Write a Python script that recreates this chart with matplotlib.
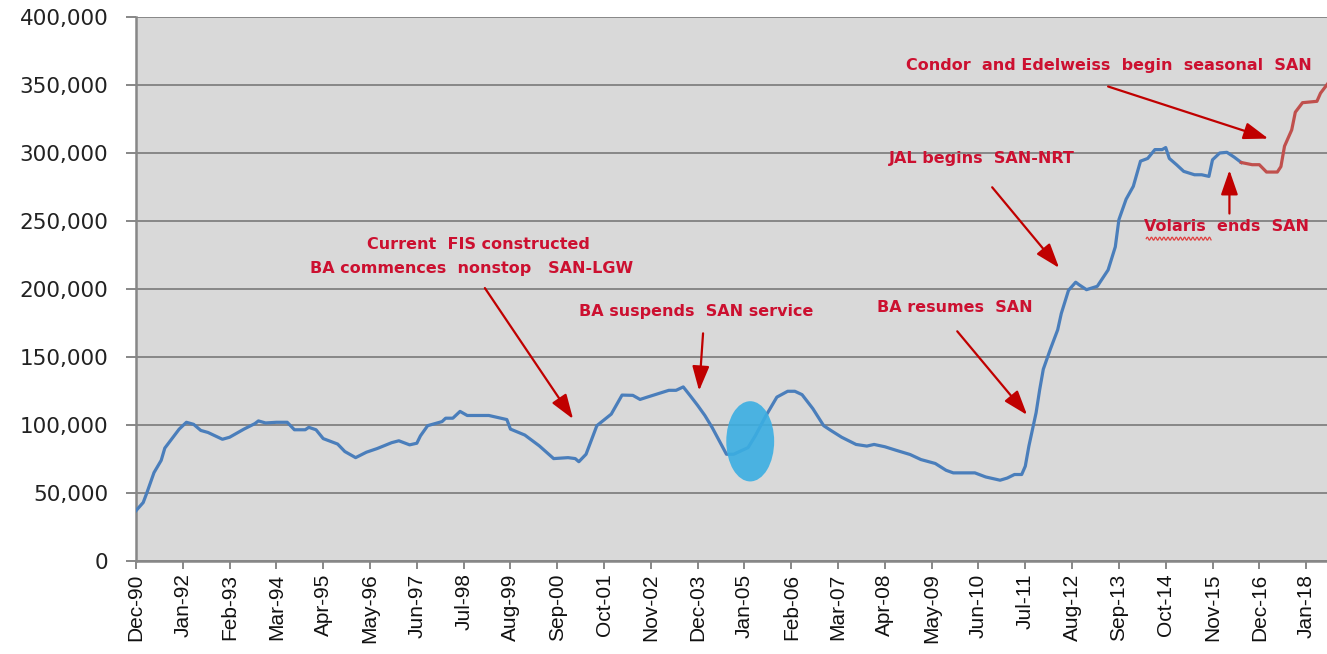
"""
SAN international passengers (rolling 12 months), Dec-90 to mid-2018
"""

import datetime as dt

import matplotlib
matplotlib.use("Agg")
import matplotlib.pyplot as plt
import numpy as np
import pandas as pd
from matplotlib.patches import Ellipse
from matplotlib.ticker import FuncFormatter

# values
blue_months = [
    "1990-12", "1991-02", "1991-03", "1991-05", "1991-07", "1991-08", "1991-10", "1991-12",
    "1992-02", "1992-04", "1992-06", "1992-08", "1992-12", "1993-02", "1993-06", "1993-09",
    "1993-10", "1993-12", "1994-03", "1994-06", "1994-08", "1994-11", "1994-12", "1995-02",
    "1995-04", "1995-08", "1995-10", "1996-01", "1996-04", "1996-07", "1996-11", "1997-01",
    "1997-04", "1997-06", "1997-07", "1997-09", "1998-01", "1998-02", "1998-04", "1998-06",
    "1998-08", "1999-02", "1999-03", "1999-07", "1999-08", "1999-12", "2000-04", "2000-08",
    "2000-12", "2001-02", "2001-03", "2001-05", "2001-08", "2001-12", "2002-03", "2002-06",
    "2002-08", "2002-10", "2003-02", "2003-04", "2003-06", "2003-08", "2003-10", "2003-12",
    "2004-02", "2004-04", "2004-06", "2004-08", "2004-10", "2005-02", "2005-04", "2005-07",
    "2005-10", "2006-01", "2006-03", "2006-05", "2006-08", "2006-11", "2007-01", "2007-04",
    "2007-08", "2007-11", "2008-01", "2008-04", "2008-07", "2008-11", "2009-02", "2009-06",
    "2009-09", "2009-11", "2010-05", "2010-08", "2010-12", "2011-02", "2011-04", "2011-06",
    "2011-07", "2011-08", "2011-10", "2011-11", "2011-12", "2012-02", "2012-04", "2012-05",
    "2012-07", "2012-09", "2012-10", "2012-12", "2013-03", "2013-06", "2013-08", "2013-09",
    "2013-11", "2014-01", "2014-03", "2014-05", "2014-07", "2014-09", "2014-10", "2014-11",
    "2015-01", "2015-03", "2015-06", "2015-08", "2015-10", "2015-11", "2016-01", "2016-03",
    "2016-05", "2016-07",
]
blue_values = [
    37000, 43000, 50000, 65000, 74000, 83000, 90000, 97000,
    102000, 100500, 96000, 94500, 89500, 91000, 97000, 101000,
    103000, 101500, 102000, 102000, 96500, 96500, 98300, 96500,
    90000, 86000, 80500, 76000, 80000, 82700, 87000, 88400,
    85400, 86600, 92000, 99500, 102500, 105000, 105000, 110000,
    107000, 107000, 106400, 104000, 97000, 92600, 84700, 75300,
    76000, 75300, 73000, 78500, 99500, 108000, 122000, 121800,
    118800, 120500, 123800, 125500, 125500, 128000, 121300, 114400,
    107000, 98300, 88400, 78500, 78500, 83400, 92000, 107000,
    120500, 124800, 124800, 122300, 112000, 99500, 96000, 91000,
    85700, 84500, 85700, 84000, 81500, 78300, 74600, 71700,
    66700, 64800, 64800, 61800, 59400, 61000, 63600, 63600,
    69700, 84500, 109000, 126000, 141000, 156000, 170000, 182000,
    199000, 205000, 203000, 199500, 202000, 214000, 231000, 251000,
    266000, 275500, 294000, 296000, 302500, 302500, 304000, 296000,
    291400, 286500, 284000, 284000, 282800, 295000, 300000, 300500,
    297000, 293000,
]

red_months = [
    "2016-07", "2016-10", "2016-12", "2017-02", "2017-05", "2017-06", "2017-07",
    "2017-09", "2017-10", "2017-12", "2018-04", "2018-05", "2018-07",
]
red_values = [
    293000, 291400, 291400, 286000, 286000, 290000, 305000,
    317000, 330000, 337000, 338000, 344000, 351000,
]

tick_labels = [
    "Dec-90", "Jan-92", "Feb-93", "Mar-94", "Apr-95", "May-96", "Jun-97", "Jul-98",
    "Aug-99", "Sep-00", "Oct-01", "Nov-02", "Dec-03", "Jan-05", "Feb-06", "Mar-07",
    "Apr-08", "May-09", "Jun-10", "Jul-11", "Aug-12", "Sep-13", "Oct-14", "Nov-15",
    "Dec-16", "Jan-18",
]

START = pd.Period("1990-12", freq="M")
TEXT_RED = "#CC1030"
ARROW_RED = "#C00000"
GRID_GRAY = "#878787"


def month_index(p):
    """Months since Dec-1990."""
    return (pd.Period(p, freq="M") - START).n


def label_index(lbl):
    d = dt.datetime.strptime(lbl, "%b-%y")
    return month_index(d.strftime("%Y-%m"))


blue_x = [month_index(m) for m in blue_months]
red_x = [month_index(m) for m in red_months]
tick_x = [label_index(t) for t in tick_labels]

fig = plt.figure(figsize=(13.27, 6.54), dpi=100)
ax = fig.add_axes([136 / 1327, 1 - 561 / 654, 1 - 136 / 1327, (561 - 17) / 654])
ax.set_facecolor("#D9D9D9")

ax.plot(blue_x, blue_values, color="#4A7EBB", lw=2.3, solid_joinstyle="round", zorder=3)
ax.plot(red_x, red_values, color="#C0504D", lw=2.3, solid_joinstyle="round", zorder=3)

# highlight around the Jan-05 dip
ax.add_patch(Ellipse((170.6, 88000), 13.3, 59000, facecolor="#3BAEE2", edgecolor="none",
                     alpha=0.9, zorder=4))

ax.set_xlim(0, 330.8)
ax.set_ylim(0, 400000)
ax.set_yticks(range(0, 400001, 50000))
ax.yaxis.set_major_formatter(FuncFormatter(lambda v, _: f"{int(v):,}"))
ax.set_xticks(tick_x)
ax.set_xticklabels(tick_labels, rotation=90, fontsize=15, family="Liberation Sans")

ax.grid(axis="y", color=GRID_GRAY, lw=1.4, zorder=1)
ax.set_axisbelow(True)
for side in ("top", "right"):
    ax.spines[side].set_visible(False)
for side in ("left", "bottom"):
    ax.spines[side].set_color(GRID_GRAY)
    ax.spines[side].set_linewidth(1.8)

ax.tick_params(axis="y", length=7, width=1.4, color=GRID_GRAY, pad=13,
               labelsize=15.5, labelcolor="#222222")
ax.tick_params(axis="x", length=6, width=1.4, color=GRID_GRAY, pad=3, labelcolor="#111111")

# annotations
txt = dict(color=TEXT_RED, fontsize=11.5, fontweight="bold", ha="center", va="center", zorder=6)
arrow = dict(arrowstyle="-|>,head_length=0.75,head_width=0.26", color=ARROW_RED, lw=1.6,
             mutation_scale=20, shrinkA=0, shrinkB=0)

ax.text(95, 232600, "Current  FIS constructed", **txt)
ax.text(93.3, 214800, "BA commences  nonstop   SAN-LGW", **txt)
ax.annotate("", xy=(121.4, 104400), xytext=(96.9, 200700), arrowprops=arrow)

ax.text(155.6, 183700, "BA suspends  SAN service", **txt)
ax.annotate("", xy=(156.4, 125200), xytext=(157.5, 167400), arrowprops=arrow)

ax.text(227.5, 186700, "BA resumes  SAN", **txt)
ax.annotate("", xy=(247.5, 107400), xytext=(228.1, 168900), arrowprops=arrow)

ax.text(235, 296300, "JAL begins  SAN-NRT", **txt)
ax.annotate("", xy=(256.4, 215500), xytext=(237.8, 274800), arrowprops=arrow)

ax.text(270.3, 364400, "Condor  and Edelweiss  begin  seasonal  SAN", **txt)
ax.annotate("", xy=(314.5, 310600), xytext=(270, 348900), arrowprops=arrow)

ax.text(302.8, 245900, "Volaris  ends  SAN", **txt)
ax.annotate("", xy=(303.7, 287400), xytext=(303.7, 255500), arrowprops=arrow)

# spell-check squiggle under "Volaris"
wx = np.linspace(280.6, 298.6, 160)
ax.plot(wx, 237000 + 1100 * np.sin((wx - wx[0]) * 2 * np.pi / 1.15),
        color="#E04040", lw=0.9, zorder=6)

fig.savefig("out.png", dpi=100, facecolor="white")
